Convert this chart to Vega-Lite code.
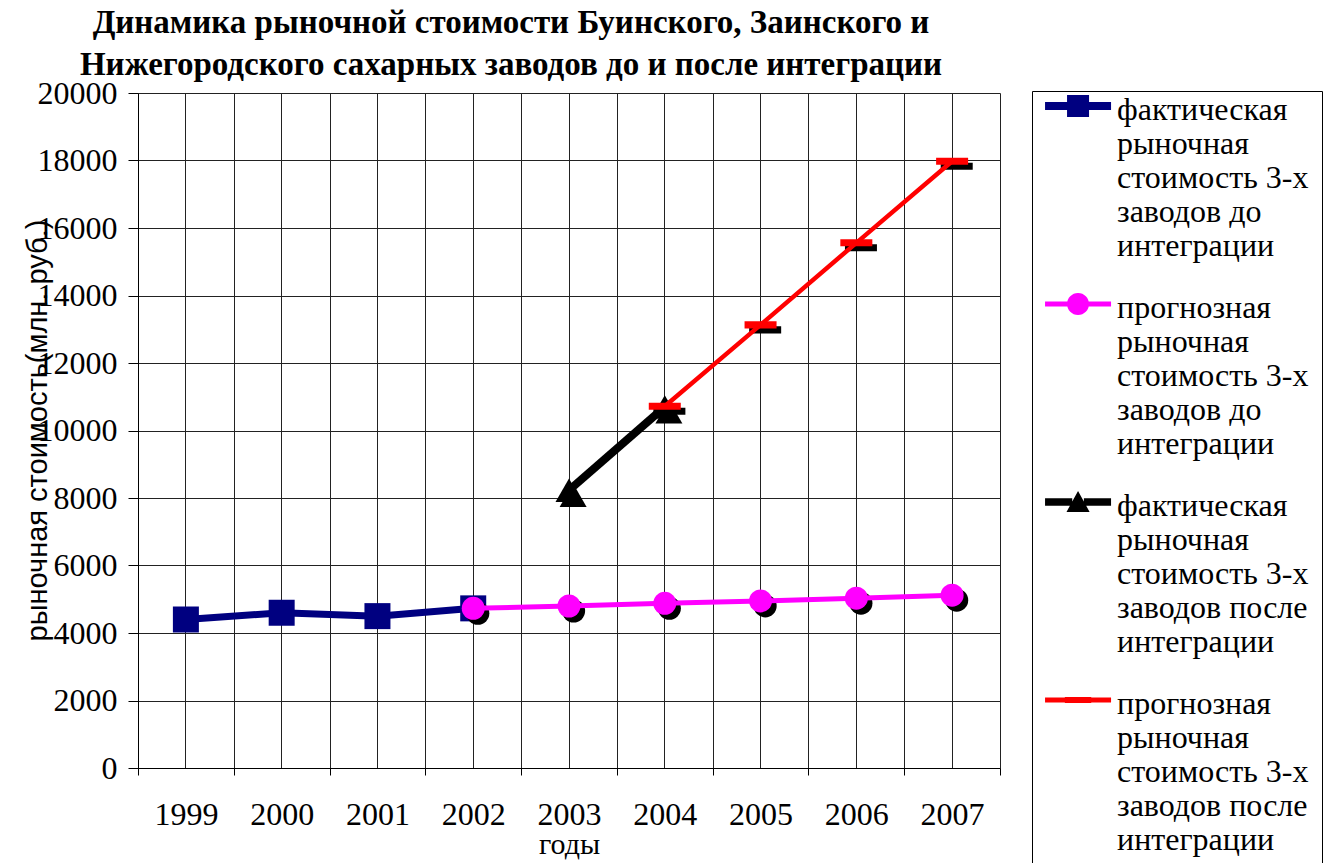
{
  "$schema": "https://vega.github.io/schema/vega-lite/v6.json",
  "width": 862,
  "height": 675,
  "autosize": {"type": "none"},
  "padding": {"left": 138, "top": 93, "right": 324, "bottom": 95},
  "background": "white",
  "title": {
    "text": ["Динамика рыночной стоимости Буинского, Заинского и", "Нижегородского сахарных заводов до и после интеграции"],
    "font": "Liberation Serif",
    "fontSize": 33,
    "fontWeight": "bold",
    "color": "black",
    "lineHeight": 42,
    "anchor": "middle",
    "frame": "group",
    "dx": -58,
    "offset": -5
  },
  "config": {
    "view": {"stroke": null},
    "axis": {"domainColor": "black", "tickColor": "black", "gridColor": "#222222", "gridWidth": 1, "labelColor": "black", "titleColor": "black", "domainWidth": 1, "tickWidth": 1}
  },
  "data": {
    "values": [
      {"year": "1999", "series": "фактическая\nрыночная\nстоимость 3-х\nзаводов до\nинтеграции", "value": 4400},
      {"year": "2000", "series": "фактическая\nрыночная\nстоимость 3-х\nзаводов до\nинтеграции", "value": 4600},
      {"year": "2001", "series": "фактическая\nрыночная\nстоимость 3-х\nзаводов до\nинтеграции", "value": 4500},
      {"year": "2002", "series": "фактическая\nрыночная\nстоимость 3-х\nзаводов до\nинтеграции", "value": 4730},
      {"year": "2002", "series": "прогнозная\nрыночная\nстоимость 3-х\nзаводов до\nинтеграции", "value": 4730},
      {"year": "2003", "series": "прогнозная\nрыночная\nстоимость 3-х\nзаводов до\nинтеграции", "value": 4800},
      {"year": "2004", "series": "прогнозная\nрыночная\nстоимость 3-х\nзаводов до\nинтеграции", "value": 4880},
      {"year": "2005", "series": "прогнозная\nрыночная\nстоимость 3-х\nзаводов до\nинтеграции", "value": 4950},
      {"year": "2006", "series": "прогнозная\nрыночная\nстоимость 3-х\nзаводов до\nинтеграции", "value": 5030},
      {"year": "2007", "series": "прогнозная\nрыночная\nстоимость 3-х\nзаводов до\nинтеграции", "value": 5120},
      {"year": "2003", "series": "фактическая\nрыночная\nстоимость 3-х\nзаводов после\nинтеграции", "value": 8230},
      {"year": "2004", "series": "фактическая\nрыночная\nстоимость 3-х\nзаводов после\nинтеграции", "value": 10700},
      {"year": "2004", "series": "прогнозная\nрыночная\nстоимость 3-х\nзаводов после\nинтеграции", "value": 10720},
      {"year": "2005", "series": "прогнозная\nрыночная\nстоимость 3-х\nзаводов после\nинтеграции", "value": 13130},
      {"year": "2006", "series": "прогнозная\nрыночная\nстоимость 3-х\nзаводов после\nинтеграции", "value": 15560},
      {"year": "2007", "series": "прогнозная\nрыночная\nстоимость 3-х\nзаводов после\nинтеграции", "value": 17980}
    ]
  },
  "encoding": {
    "x": {"field": "year", "type": "ordinal", "bandPosition": 0.5, "scale": {"type": "band", "domain": ["1999", "2000", "2001", "2002", "2003", "2004", "2005", "2006", "2007"], "paddingInner": 0, "paddingOuter": 0}, "axis": null},
    "y": {"field": "value", "type": "quantitative", "scale": {"domain": [0, 20000], "nice": false, "zero": true},
      "axis": {"title": "рыночная стоимость(млн. руб.)", "values": [0, 2000, 4000, 6000, 8000, 10000, 12000, 14000, 16000, 18000, 20000], "format": "d", "grid": true, "tickSize": 10, "labelFont": "Liberation Serif", "labelFontSize": 32, "labelPadding": 11, "labelFlush": false, "titleFont": "Liberation Sans", "titleFontSize": 29, "titleFontWeight": "normal", "titleX": -101, "titleY": 337, "titleBaseline": "middle", "titleAngle": -90}}
  },
  "layer": [
    {
      "transform": [{"filter": {"field": "series", "equal": "фактическая\nрыночная\nстоимость 3-х\nзаводов до\nинтеграции"}}],
      "mark": {"type": "line", "color": "#000080", "strokeWidth": 7},
      "encoding": {
        "x": {"field": "year", "type": "ordinal", "bandPosition": 0.5, "axis": {"orient": "bottom", "tickBand": "extent", "grid": true, "tickSize": 7, "labelFont": "Liberation Serif", "labelFontSize": 32, "labelPadding": 24, "labelAngle": 0, "title": "годы", "titleFont": "Liberation Serif", "titleFontSize": 30, "titleFontWeight": "normal", "titleY": 61, "titleBaseline": "top"}}
      }
    },
    {
      "transform": [{"filter": {"field": "series", "equal": "фактическая\nрыночная\nстоимость 3-х\nзаводов до\nинтеграции"}}],
      "mark": {"type": "point", "shape": "square", "filled": true, "color": "#000080", "size": 676, "opacity": 1},
      "encoding": {
        "x": {"field": "year", "type": "ordinal", "bandPosition": 0.5, "axis": {"orient": "bottom", "grid": true, "ticks": false, "labels": false, "domain": false, "title": null}}
      }
    },
    {
      "transform": [{"filter": {"field": "series", "equal": "прогнозная\nрыночная\nстоимость 3-х\nзаводов до\nинтеграции"}}],
      "mark": {"type": "point", "shape": "circle", "filled": true, "color": "black", "size": 529, "opacity": 1},
      "encoding": {"xOffset": {"value": 52.5}, "yOffset": {"value": 5}}
    },
    {
      "transform": [{"filter": {"field": "series", "equal": "прогнозная\nрыночная\nстоимость 3-х\nзаводов до\nинтеграции"}}],
      "mark": {"type": "line", "color": "#FF00FF", "strokeWidth": 5},
      "encoding": {}
    },
    {
      "transform": [{"filter": {"field": "series", "equal": "прогнозная\nрыночная\nстоимость 3-х\nзаводов до\nинтеграции"}}],
      "mark": {"type": "point", "shape": "circle", "filled": true, "color": "#FF00FF", "size": 529, "opacity": 1},
      "encoding": {}
    },
    {
      "transform": [{"filter": {"field": "series", "equal": "фактическая\nрыночная\nстоимость 3-х\nзаводов после\nинтеграции"}}],
      "mark": {"type": "point", "shape": "triangle-up", "filled": true, "color": "black", "size": 729, "opacity": 1},
      "encoding": {"xOffset": {"value": 52}, "yOffset": {"value": 5}}
    },
    {
      "transform": [{"filter": {"field": "series", "equal": "фактическая\nрыночная\nстоимость 3-х\nзаводов после\nинтеграции"}}],
      "mark": {"type": "line", "color": "black", "strokeWidth": 8},
      "encoding": {}
    },
    {
      "transform": [{"filter": {"field": "series", "equal": "фактическая\nрыночная\nстоимость 3-х\nзаводов после\nинтеграции"}}],
      "mark": {"type": "point", "shape": "triangle-up", "filled": true, "color": "black", "size": 729, "opacity": 1},
      "encoding": {}
    },
    {
      "transform": [{"filter": {"field": "series", "equal": "прогнозная\nрыночная\nстоимость 3-х\nзаводов после\nинтеграции"}}],
      "mark": {"type": "point", "shape": "M-1,-0.22H1V0.22H-1Z", "filled": true, "color": "black", "size": 1024, "opacity": 1},
      "encoding": {"xOffset": {"value": 52.5}, "yOffset": {"value": 5}}
    },
    {
      "transform": [{"filter": {"field": "series", "equal": "прогнозная\nрыночная\nстоимость 3-х\nзаводов после\nинтеграции"}}],
      "mark": {"type": "line", "color": "#FF0000", "strokeWidth": 4.5},
      "encoding": {}
    },
    {
      "transform": [{"filter": {"field": "series", "equal": "прогнозная\nрыночная\nстоимость 3-х\nзаводов после\nинтеграции"}}],
      "mark": {"type": "point", "shape": "M-1,-0.22H1V0.22H-1Z", "filled": true, "color": "#FF0000", "size": 1024, "opacity": 1},
      "encoding": {}
    },
    {
      "transform": [{"filter": "false"}],
      "mark": {"type": "point", "filled": true, "opacity": 1},
      "encoding": {
        "color": {"field": "series", "type": "nominal",
          "scale": {"domain": ["фактическая\nрыночная\nстоимость 3-х\nзаводов до\nинтеграции", "прогнозная\nрыночная\nстоимость 3-х\nзаводов до\nинтеграции", "фактическая\nрыночная\nстоимость 3-х\nзаводов после\nинтеграции", "прогнозная\nрыночная\nстоимость 3-х\nзаводов после\nинтеграции"], "range": ["#000080", "#FF00FF", "#000000", "#FF0000"]},
          "legend": {"orient": "none", "legendX": 894, "legendY": -2, "title": null, "labelExpr": "split(datum.label, '\\n')", "labelFont": "Liberation Serif", "labelFontSize": 32, "labelColor": "black", "labelLimit": 400, "labelBaseline": "alphabetic", "labelOffset": 40, "symbolSize": 484, "symbolStrokeWidth": 0, "symbolOpacity": 1, "rowPadding": 30, "padding": 13, "strokeColor": "black", "fillColor": "white"}},
        "shape": {"field": "series", "type": "nominal",
          "scale": {"domain": ["фактическая\nрыночная\nстоимость 3-х\nзаводов до\nинтеграции", "прогнозная\nрыночная\nстоимость 3-х\nзаводов до\nинтеграции", "фактическая\nрыночная\nстоимость 3-х\nзаводов после\nинтеграции", "прогнозная\nрыночная\nстоимость 3-х\nзаводов после\nинтеграции"],
            "range": [
              "M-1.45,-1.63H0.62V-0.91H-1.45Z M2.48,-1.63H4.55V-0.91H2.48Z M0.55,-2.27H2.55V-0.27H0.55Z",
              "M-1.45,-1.5H0.65V-1.04H-1.45Z M2.45,-1.5H4.55V-1.04H2.45Z M0.55,-1.27A1,1 0 1,1 2.55,-1.27A1,1 0 1,1 0.55,-1.27Z",
              "M-1.45,-1.61H1.02V-0.93H-1.45Z M2.08,-1.61H4.55V-0.93H2.08Z M1.55,-2.27L2.6,-0.37H0.5Z",
              "M-1.45,-1.5H4.55V-1.04H-1.45Z M0.35,-1.55H2.75V-0.99H0.35Z"
            ]},
          "legend": {"title": null}}
      }
    }
  ],
  "resolve": {"axis": {"x": "independent"}}
}
